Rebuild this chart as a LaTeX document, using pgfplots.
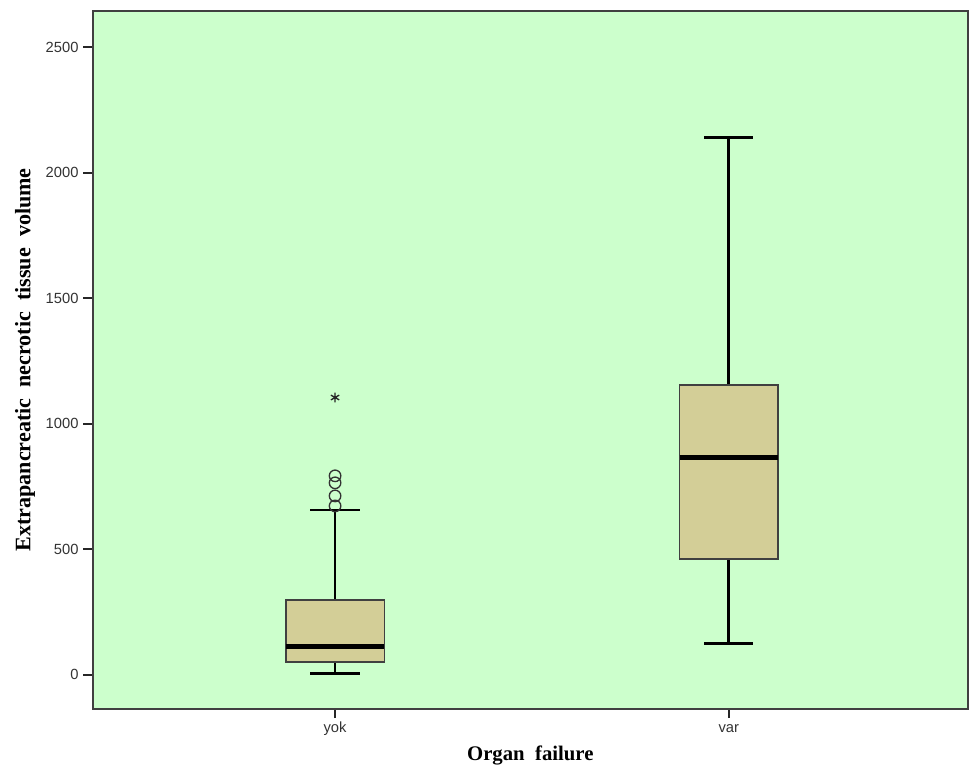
\documentclass[border=0pt]{standalone}
\usepackage{fontspec}
\setmainfont{Liberation Serif}
\newfontfamily\arial{Liberation Sans}
\usepackage{pgfplots}
\pgfplotsset{compat=1.18}
\usepgfplotslibrary{statistics}
\definecolor{bgGreen}{RGB}{204,255,204}
\definecolor{boxTan}{RGB}{211,206,151}
\begin{document}
\begin{tikzpicture}
\begin{axis}[
  scale only axis,
  width=654pt, height=521.25pt,
  xmin=0.384, xmax=2.608, ymin=-136, ymax=2644,
  axis background/.style={fill=bgGreen},
  xtick={1,2}, xticklabels={yok,var},
  ytick={0,500,1000,1500,2000,2500},
  xtick pos=left, ytick pos=left,
  tick align=outside, major tick length=7pt,
  tick style={black!85, line width=1.4pt},
  axis line style={line width=1.4pt, black!75},
  ticklabel style={font=\arial\fontsize{11}{13}\selectfont, color=black!80},
  xticklabel style={text height=1.6ex, text depth=0.4ex},
  /pgf/number format/assume math mode=true,
  /pgf/number format/set thousands separator={},
  xlabel={Organ\ \ failure},
  ylabel={Extrapancreatic\ \ necrotic\ \ tissue\ \ volume},
  xlabel style={font=\bfseries\fontsize{15.5}{17}\selectfont, yshift=-1pt},
  ylabel style={font=\bfseries\fontsize{16.5}{18}\selectfont, yshift=1pt},
  boxplot/draw direction=y,
  boxplot/every box/.style={draw=black!75, fill=boxTan, line width=1.1pt},
  boxplot/every whisker/.style={black, line width=2pt},
  boxplot/every median/.style={black, line width=3.5pt},
  clip=false,
]
\addplot[boxplot prepared={
    lower whisker=4, lower quartile=51, median=111,
    upper quartile=297, upper whisker=656,
    draw position=1, box extend=0.25, whisker extend=0.125}]
  coordinates {};
\addplot[boxplot prepared={
    lower whisker=123, lower quartile=461, median=864,
    upper quartile=1153, upper whisker=2141,
    draw position=2, box extend=0.25, whisker extend=0.125}]
  coordinates {};
\addplot[only marks, mark=o, mark size=4.3pt, draw=black!80, line width=1pt]
  coordinates {(1,792) (1,764) (1,712) (1,672)};
\addplot[only marks, mark=asterisk, mark size=3.6pt, draw=black!85, line width=1pt]
  coordinates {(1,1104)};
\end{axis}
\path ([xshift=-8pt,yshift=7.5pt]current bounding box.north west);
\end{tikzpicture}
\end{document}
